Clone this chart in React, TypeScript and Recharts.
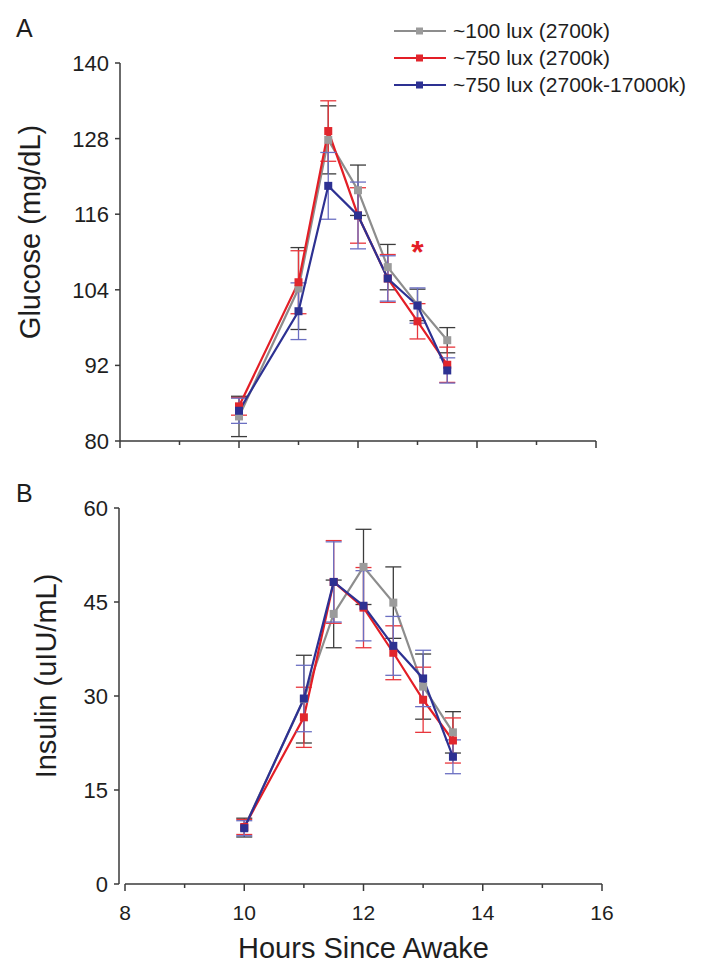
import React from 'react';
import { ComposedChart, Line, XAxis, YAxis, ErrorBar, ReferenceDot, ReferenceLine } from 'recharts';

// ---- data ----
const HOURS = [10, 11, 11.5, 12, 12.5, 13, 13.5];
const X_TICKS = [8, 9, 10, 11, 12, 13, 14, 15, 16];
const GLU_TICKS = [80, 92, 104, 116, 128, 140];
const INS_TICKS = [0, 15, 30, 45, 60];

const GLU_DIM = [83.9, 104.2, 127.8, 119.8, 107.6, 101.6, 96.0];
const GLU_DIM_ERR = [3.2, 6.5, 5.4, 4.0, 3.6, 2.5, 2.0];
const GLU_BRIGHT = [85.5, 105.2, 129.2, 115.8, 105.8, 99.0, 92.1];
const GLU_BRIGHT_ERR = [1.4, 5.0, 4.8, 4.4, 3.8, 2.8, 2.8];
const GLU_MIX = [84.8, 100.6, 120.5, 115.8, 105.8, 101.5, 91.2];
const GLU_MIX_ERR = [2.0, 4.5, 5.3, 5.3, 3.6, 2.8, 2.0];

const INS_DIM = [9.0, 29.5, 43.1, 50.6, 44.9, 31.5, 24.2];
const INS_DIM_ERR = [1.5, 7.0, 5.4, 6.0, 5.7, 5.2, 3.3];
const INS_BRIGHT = [9.1, 26.6, 48.2, 44.1, 36.9, 29.4, 22.9];
const INS_BRIGHT_ERR = [1.2, 4.8, 6.6, 6.4, 4.3, 5.2, 3.6];
const INS_MIX = [8.9, 29.6, 48.2, 44.4, 38.0, 32.8, 20.3];
const INS_MIX_ERR = [1.2, 5.3, 6.4, 5.6, 4.7, 4.5, 2.7];

const SIGNIF = { x: 13, y: 110, text: '*' };

const SERIES = [
  { key: 'dim', name: '~100 lux (2700k)', color: '#8d8d8d', marker: '#9b9b9b', errColor: '#3c3c3c' },
  { key: 'bright', name: '~750 lux (2700k)', color: '#e31e26', marker: '#e1262d', errColor: '#e8363c' },
  { key: 'mix', name: '~750 lux (2700k-17000k)', color: '#2d3192', marker: '#2d3192', errColor: '#6b6fc2' },
];

const gluData = HOURS.map((h, i) => ({
  h,
  dim: GLU_DIM[i], dimErr: GLU_DIM_ERR[i],
  bright: GLU_BRIGHT[i], brightErr: GLU_BRIGHT_ERR[i],
  mix: GLU_MIX[i], mixErr: GLU_MIX_ERR[i],
}));
const insData = HOURS.map((h, i) => ({
  h,
  dim: INS_DIM[i], dimErr: INS_DIM_ERR[i],
  bright: INS_BRIGHT[i], brightErr: INS_BRIGHT_ERR[i],
  mix: INS_MIX[i], mixErr: INS_MIX_ERR[i],
}));

// ---- styles ----
const FONT = '"Liberation Sans", Arial, Helvetica, sans-serif';
const AXIS_COLOR = '#3a3a3a';
const TEXT_COLOR = '#1e1e1e';

const squareDot = (fill: string) => (props: any) => {
  const { cx, cy, index } = props;
  if (cx == null || cy == null) return <g key={`e-${index}`} />;
  return <rect key={`d-${index}`} x={cx - 4} y={cy - 4} width={8} height={8} fill={fill} />;
};

const makeXTick = (showLabel: boolean) => (props: any) => {
  const { x, y, payload } = props;
  const major = payload.value % 2 === 0;
  return (
    <g>
      <line x1={x} x2={x} y1={y} y2={y + (major ? 7 : 4)} stroke={AXIS_COLOR} strokeWidth={1.5} />
      {showLabel && major ? (
        <text x={x} y={y + 36} textAnchor="middle" fontSize={21} fill={TEXT_COLOR} fontFamily={FONT}>
          {payload.value}
        </text>
      ) : null}
    </g>
  );
};

const YTick = (props: any) => {
  const { x, y, payload } = props;
  return (
    <text x={x} y={y + 8} textAnchor="end" fontSize={22} fill={TEXT_COLOR} fontFamily={FONT}>
      {payload.value}
    </text>
  );
};

const yTitle = (text: string, tx: number, ty: number) => () => (
  <text
    x={tx}
    y={ty}
    transform={`rotate(-90 ${tx} ${ty})`}
    textAnchor="middle"
    fontSize={29}
    fill={TEXT_COLOR}
    fontFamily={FONT}
  >
    {text}
  </text>
);

const renderSeries = () =>
  SERIES.map((s) => (
    <Line
      key={s.key}
      dataKey={s.key}
      name={s.name}
      type="linear"
      stroke={s.color}
      strokeWidth={2.2}
      dot={squareDot(s.marker)}
      activeDot={false}
      isAnimationActive={false}
    >
      <ErrorBar dataKey={`${s.key}Err`} width={8} stroke={s.errColor} strokeWidth={1.3} direction="y" isAnimationActive={false} />
    </Line>
  ));

export default function App() {
  return (
    <div style={{ position: 'absolute', left: 0, top: 0, width: 702, height: 976, background: '#fff', fontFamily: FONT }}>
      <div style={{ position: 'absolute', left: 0, top: 0 }}>
        <ComposedChart width={702} height={470} data={gluData} margin={{ top: 63, right: 106, bottom: 0, left: 0 }}>
          <XAxis
            dataKey="h"
            type="number"
            domain={[8, 16]}
            ticks={X_TICKS}
            interval={0}
            allowDataOverflow
            height={29}
            tickSize={0}
            tickMargin={0}
            tickLine={false}
            tick={makeXTick(false)}
            axisLine={{ stroke: AXIS_COLOR, strokeWidth: 1.5 }}
          />
          <YAxis
            type="number"
            domain={[80, 140]}
            ticks={GLU_TICKS}
            interval={0}
            allowDataOverflow
            width={120}
            tickSize={5}
            tickMargin={6}
            tick={YTick}
            tickLine={{ stroke: AXIS_COLOR, strokeWidth: 1.5 }}
            axisLine={{ stroke: AXIS_COLOR, strokeWidth: 1.5 }}
            label={yTitle('Glucose (mg/dL)', 40, 232)}
          />
          {renderSeries()}
          <ReferenceDot
            x={SIGNIF.x}
            y={SIGNIF.y}
            r={0}
            fill="none"
            stroke="none"
            label={{ value: SIGNIF.text, position: 'center', fill: '#e31e26', fontSize: 32, fontWeight: 'bold', fontFamily: FONT }}
          />
        </ComposedChart>
      </div>
      <div style={{ position: 'absolute', left: 0, top: 470 }}>
        <ComposedChart width={702} height={506} data={insData} margin={{ top: 38, right: 100, bottom: 0, left: 0 }}>
          <XAxis
            dataKey="h"
            type="number"
            domain={[8, 16]}
            ticks={X_TICKS}
            interval={0}
            allowDataOverflow
            padding={{ left: 6, right: 0 }}
            height={92}
            tickSize={0}
            tickMargin={0}
            tickLine={false}
            tick={makeXTick(true)}
            axisLine={false}
            label={{
              content: (p: any) => {
                const vb = p.viewBox || { x: 119, width: 483 };
                const cx = vb.x + vb.width / 2 + 3;
                return (
                  <text x={cx} y={488} textAnchor="middle" fontSize={29} fill={TEXT_COLOR} fontFamily={FONT}>
                    Hours Since Awake
                  </text>
                );
              },
            }}
          />
          <YAxis
            type="number"
            domain={[0, 60]}
            ticks={INS_TICKS}
            interval={0}
            allowDataOverflow
            width={119}
            tickSize={5}
            tickMargin={6}
            tick={YTick}
            tickLine={{ stroke: AXIS_COLOR, strokeWidth: 1.5 }}
            axisLine={{ stroke: AXIS_COLOR, strokeWidth: 1.5 }}
            label={yTitle('Insulin (uIU/mL)', 56, 206)}
          />
          <ReferenceLine
            segment={[{ x: 8, y: 0 }, { x: 16, y: 0 }]}
            stroke={AXIS_COLOR}
            strokeWidth={1.5}
            ifOverflow="visible"
          />
          {renderSeries()}
        </ComposedChart>
      </div>
      <svg
        width={702}
        height={976}
        style={{ position: 'absolute', left: 0, top: 0, pointerEvents: 'none' }}
      >
        <text x={16} y={37} fontSize={25} fill={TEXT_COLOR} fontFamily={FONT}>A</text>
        <text x={16} y={502} fontSize={25} fill={TEXT_COLOR} fontFamily={FONT}>B</text>
        {SERIES.map((s, i) => {
          const y = 31 + i * 27;
          return (
            <g key={s.key}>
              <line x1={394} x2={446} y1={y} y2={y} stroke={s.color} strokeWidth={2} />
              <rect x={416} y={y - 3.5} width={7} height={7} fill={s.marker} />
              <text x={453} y={y + 7} fontSize={21} fill={TEXT_COLOR} fontFamily={FONT}>
                {s.name}
              </text>
            </g>
          );
        })}
      </svg>
    </div>
  );
}
